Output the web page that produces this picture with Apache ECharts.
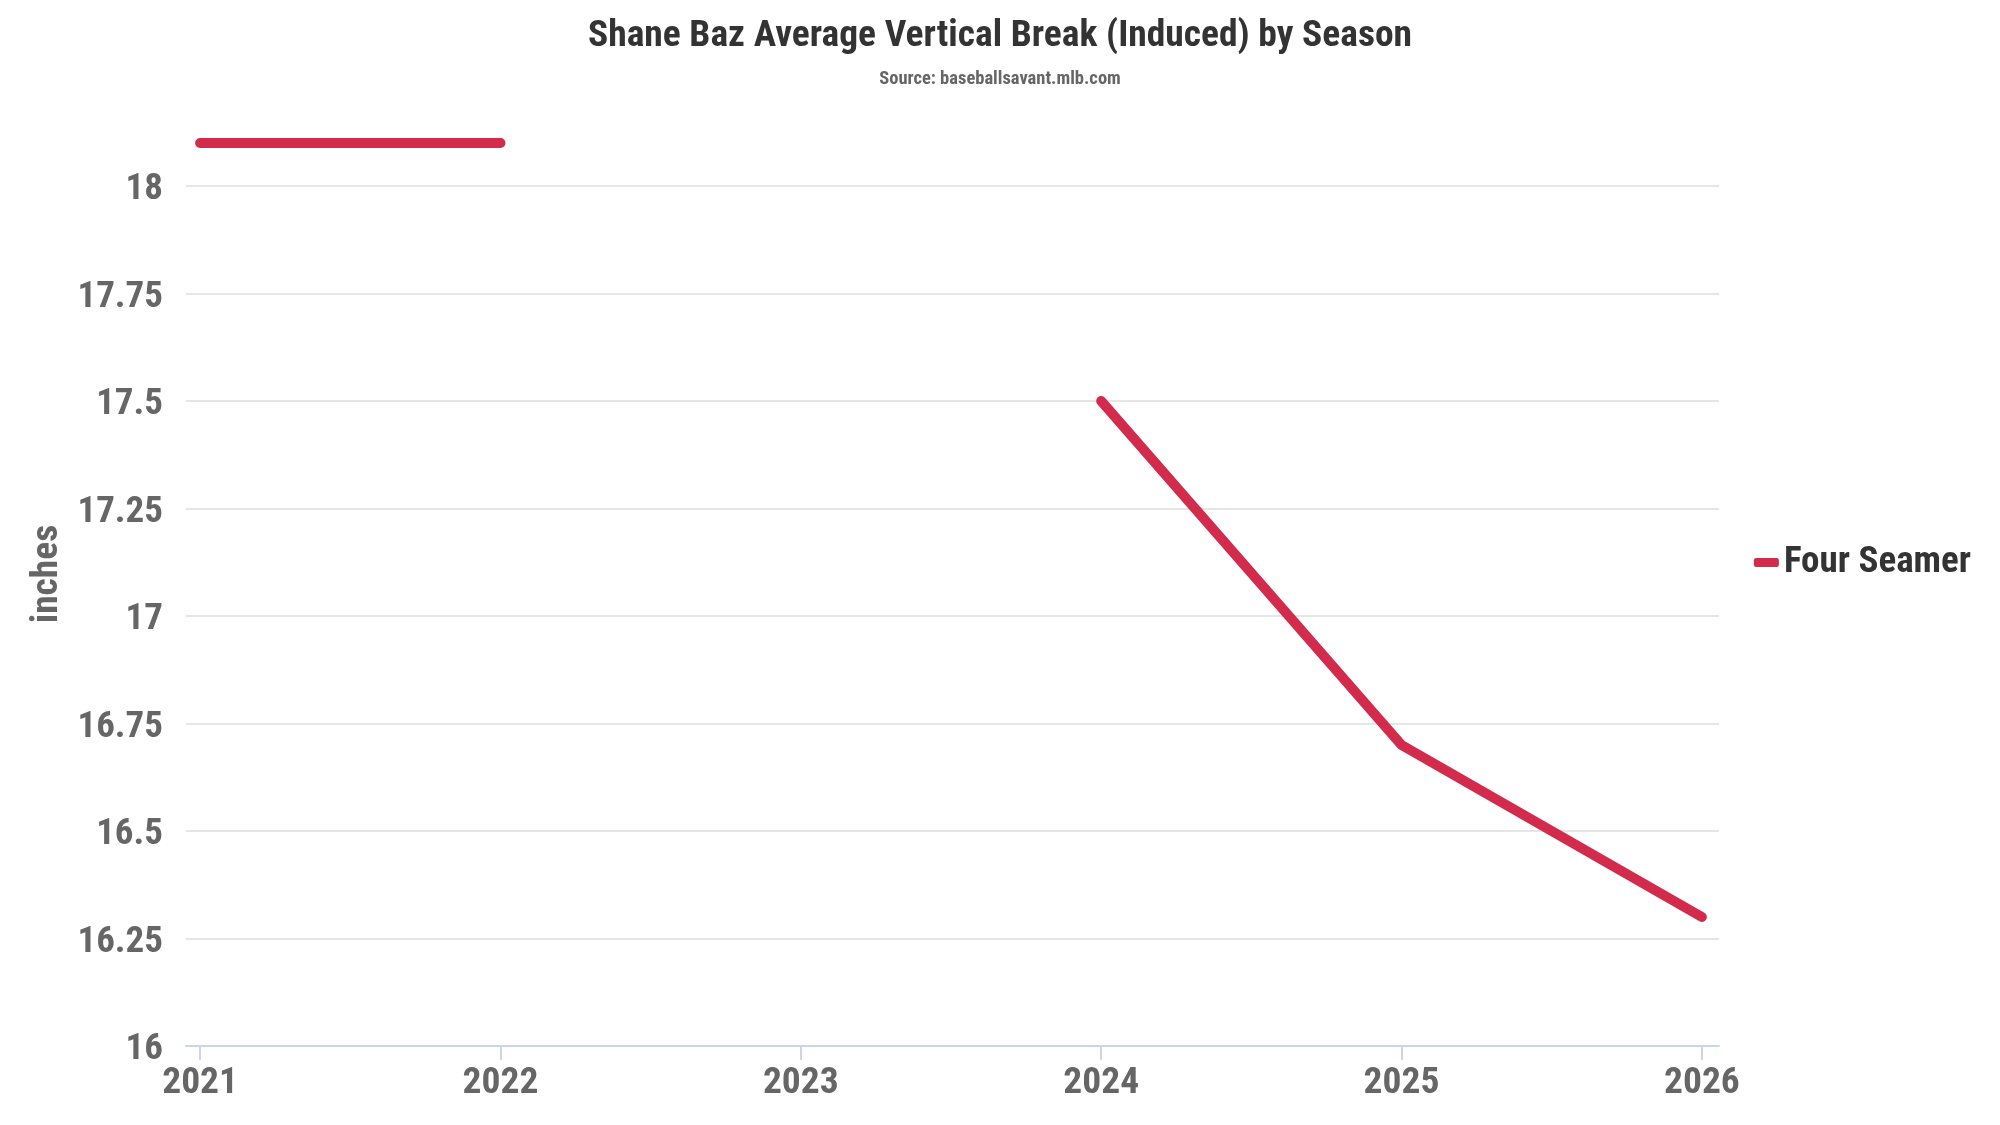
<!DOCTYPE html>
<html>
<head>
<meta charset="utf-8">
<script src="https://cdn.jsdelivr.net/npm/echarts@6/dist/echarts.min.js"></script>
<style>html,body{margin:0;padding:0;background:#fff}#c{width:2000px;height:1125px}</style>
</head>
<body>
<div id="c"></div>
<script>
const seasons = [2021, 2022, 2023, 2024, 2025, 2026];
const fourSeamer = [18.1, 18.1, null, 17.5, 16.7, 16.3];
const seriesName = 'Four Seamer';

const FONT = '"Roboto Condensed", "DejaVu Sans Condensed", Roboto, sans-serif';
const chart = echarts.init(document.getElementById('c'));
chart.setOption({
  backgroundColor: '#ffffff',
  animation: false,
  title: {
    text: 'Shane Baz Average Vertical Break (Induced) by Season',
    subtext: 'Source: baseballsavant.mlb.com',
    left: 'center',
    top: 13,
    itemGap: 14,
    textStyle: { fontFamily: FONT, fontWeight: 'bold', fontSize: 37.5, color: '#333333' },
    subtextStyle: { fontFamily: FONT, fontWeight: 'bold', fontSize: 18.5, color: '#666666' }
  },
  legend: {
    orient: 'vertical',
    right: 24,
    top: 'middle',
    icon: 'roundRect',
    itemWidth: 25,
    itemHeight: 9,
    itemGap: 10,
    textStyle: { fontFamily: FONT, fontWeight: 'bold', fontSize: 37, color: '#333333' },
    data: [seriesName]
  },
  grid: { left: 186, right: 281, top: 186, bottom: 79, containLabel: false },
  xAxis: {
    type: 'value',
    min: 2020.953,
    max: 2026.057,
    splitLine: { show: false },
    axisLine: { show: true, lineStyle: { color: '#ccd6eb', width: 2 } },
    axisTick: { show: true, length: 14, lineStyle: { color: '#ccd6eb', width: 2 }, customValues: seasons },
    axisLabel: {
      customValues: seasons,
      margin: 19,
      fontFamily: FONT, fontWeight: 'bold', fontSize: 37.5, color: '#666666',
      formatter: v => String(v)
    }
  },
  yAxis: {
    type: 'value',
    min: 16,
    max: 18,
    interval: 0.25,
    name: 'inches',
    nameLocation: 'middle',
    nameGap: 112,
    nameTextStyle: { fontFamily: FONT, fontWeight: 'bold', fontSize: 37.5, color: '#666666', padding: [0, 0, 0, 84] },
    axisLine: { show: false },
    axisTick: { show: false },
    splitLine: { lineStyle: { color: '#e6e6e6', width: 2 } },
    axisLabel: {
      margin: 23,
      fontFamily: FONT, fontWeight: 'bold', fontSize: 37, color: '#666666',
      formatter: v => '{a|' + String(+v.toFixed(2)) + '}',
      rich: { a: { fontFamily: FONT, fontWeight: 'bold', fontSize: 37, color: '#666666', padding: [8, 0, 0, 0] } }
    }
  },
  series: [{
    name: seriesName,
    type: 'line',
    clip: false,
    showSymbol: false,
    symbol: 'circle',
    symbolSize: 10,
    connectNulls: false,
    color: '#d22b4b',
    lineStyle: { width: 10, cap: 'round', join: 'round', color: '#d22b4b' },
    data: seasons.map((s, i) => [s, fourSeamer[i] == null ? '-' : fourSeamer[i]])
  }]
});
</script>
</body>
</html>
